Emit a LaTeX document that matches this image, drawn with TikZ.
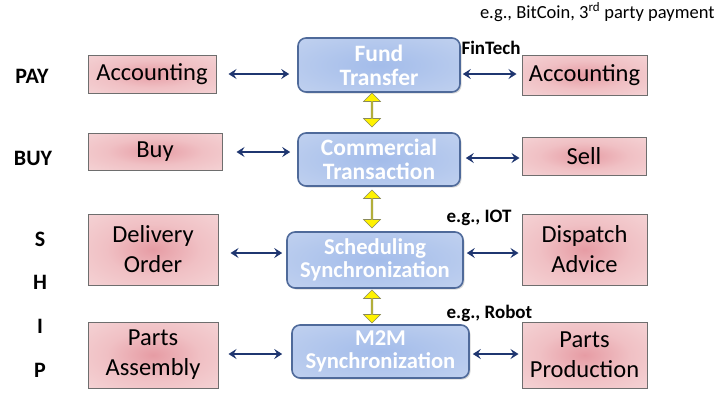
\documentclass[tikz,border=0pt]{standalone}
\usepackage{fontspec}
\setmainfont{Carlito}
\usetikzlibrary{shapes.arrows,shadows,arrows.meta}
\definecolor{navy}{HTML}{1F3670}
\definecolor{boxedge}{HTML}{4F6A9A}
\definecolor{bluein}{HTML}{A3BCEA}
\definecolor{blueout}{HTML}{D0DCF2}
\definecolor{pinkin}{HTML}{E69CA4}
\definecolor{pinkmid}{HTML}{F0C0C4}
\definecolor{pinkout}{HTML}{F9E6E6}
\definecolor{pinkedge}{HTML}{6E6E6E}
\definecolor{yarrowedge}{HTML}{8A8A5A}
\pgfdeclareradialshading{pinkshade}{\pgfpoint{0bp}{0bp}}{color(0bp)=(pinkin); color(18bp)=(pinkmid); color(55bp)=(pinkout); color(100bp)=(pinkout)}
\pgfdeclareradialshading{blueshade}{\pgfpoint{0bp}{0bp}}{color(0bp)=(bluein); color(55bp)=(blueout); color(100bp)=(blueout)}
\begin{document}
\begin{tikzpicture}[x=1pt,y=-1pt,
  bluebox/.style={draw=boxedge, line width=1.6pt, rounded corners=8pt,
    shading=blueshade, text=white,
    font=\fontsize{22.6}{23}\selectfont\bfseries, align=center, inner sep=0pt,
    drop shadow={opacity=0.3, shadow xshift=1.5pt, shadow yshift=-1.5pt}},
  bigblue/.style={font=\fontsize{23.5}{24}\selectfont\bfseries},
  pinkbox/.style={draw=pinkedge, line width=1pt,
    shading=pinkshade, text=black,
    font=\fontsize{24.5}{30}\selectfont, align=center, inner sep=0pt},
  biarrow/.style={draw=navy, line width=2.2pt, {Stealth[length=8pt,width=10pt,inset=3pt]}-{Stealth[length=8pt,width=10pt,inset=3pt]}},
  yarrow/.style={double arrow, shape border rotate=90, fill=yellow, draw=yarrowedge,
    line width=0.6pt, minimum width=17pt, double arrow head extend=3pt, inner sep=0pt},
  sidelabel/.style={font=\fontsize{22}{22}\selectfont\bfseries},
  note/.style={font=\fontsize{19}{19}\selectfont\bfseries, anchor=west}
]
\useasboundingbox (0,0) rectangle (722,392);

% centre column
\node[bluebox, bigblue, minimum width=162pt, minimum height=54pt] (fund) at (379,65) {Fund\\Transfer};
\node[bluebox, bigblue, minimum width=162pt, minimum height=53pt] (comm) at (379,159.5) {Commercial\\Transaction};
\node[bluebox, minimum width=176pt, minimum height=56pt] (sched) at (375,260) {Scheduling\\Synchronization};
\node[bluebox, minimum width=177pt, minimum height=53pt] (m2m) at (380.5,351.5) {M2M\\Synchronization};

% left column
\node[pinkbox, minimum width=128pt, minimum height=38pt] (accL) at (152,74) {Accounting};
\node[pinkbox, minimum width=134pt, minimum height=37pt] (buy) at (155,151.5) {Buy};
\node[pinkbox, minimum width=130pt, minimum height=71pt] (deliv) at (153,249.5) {Delivery\\Order};
\node[pinkbox, minimum width=130pt, minimum height=66pt] (assem) at (153,355) {Parts\\Assembly};

% right column
\node[pinkbox, minimum width=125pt, minimum height=40pt] (accR) at (584.5,75) {Accounting};
\node[pinkbox, minimum width=124pt, minimum height=38pt] (sell) at (584,156) {Sell};
\node[pinkbox, minimum width=125pt, minimum height=71pt] (disp) at (584.5,249.5) {Dispatch\\Advice};
\node[pinkbox, minimum width=125pt, minimum height=66pt] (prod) at (584.5,355) {Parts\\Production};

% side labels
\node[sidelabel] (pay) at (32,76) {PAY};
\node[sidelabel] (buyl) at (33,158) {BUY};
\node[sidelabel] (s) at (40,239) {S};
\node[sidelabel] (h) at (40,282) {H};
\node[sidelabel] (i) at (40,326) {I};
\node[sidelabel] (p) at (40,370) {P};

% notes
\node[font=\fontsize{18.5}{18.5}\selectfont, anchor=east] (btc) at (718,12) {e.g., BitCoin, 3\textsuperscript{rd} party payment};
\node[note] (fintech) at (458,48) {FinTech};
\node[note] (iot) at (443,218) {e.g., IOT};
\node[note] (robot) at (443,313) {e.g., Robot};

% horizontal connectors
\coordinate (r1) at (0,74);
\coordinate (r2a) at (0,152);
\coordinate (r2b) at (0,158);
\coordinate (r3) at (0,253);
\coordinate (r4) at (0,354);
\draw[biarrow] ([xshift=12pt]accL.east |- r1) -- ([xshift=-8pt]fund.west |- r1);
\draw[biarrow] ([xshift=2pt]fund.east |- r1) -- ([xshift=-5pt]accR.west |- r1);
\draw[biarrow] ([xshift=14pt]buy.east |- r2a) -- ([xshift=-7pt]comm.west |- r2a);
\draw[biarrow] ([xshift=5pt]comm.east |- r2b) -- ([xshift=-2pt]sell.west |- r2b);
\draw[biarrow] ([xshift=12pt]deliv.east |- r3) -- ([xshift=-4pt]sched.west |- r3);
\draw[biarrow] ([xshift=3pt]sched.east |- r3) -- ([xshift=-3pt]disp.west |- r3);
\draw[biarrow] ([xshift=10pt]assem.east |- r4) -- ([xshift=-9pt]m2m.west |- r4);
\draw[biarrow] ([xshift=3pt]m2m.east |- r4) -- ([xshift=-3pt]prod.west |- r4);

% vertical yellow arrows
\node[yarrow, minimum height=34pt] (y1) at (372,110) {};
\node[yarrow, minimum height=38pt] (y2) at (372,209) {};
\node[yarrow, minimum height=33pt] (y3) at (372,306.5) {};
\end{tikzpicture}
\end{document}
